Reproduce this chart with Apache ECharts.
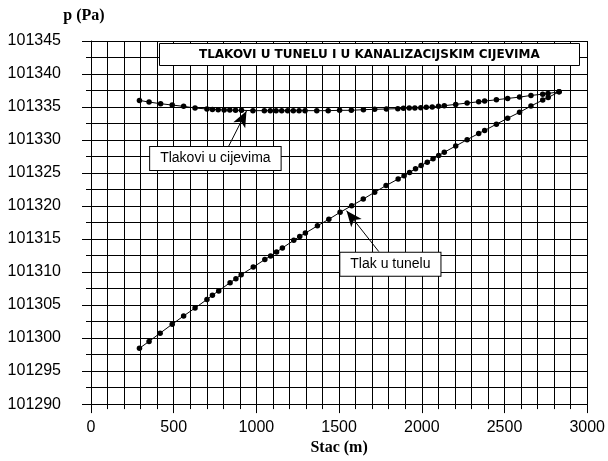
<!DOCTYPE html>
<html>
<head>
<meta charset="utf-8">
<title>Tlakovi u tunelu</title>
<script src="https://cdn.jsdelivr.net/npm/echarts@6/dist/echarts.min.js"></script>
<style>
  html, body { margin: 0; padding: 0; background: #fff; }
  #chart { width: 608px; height: 461px; }
</style>
</head>
<body>
<div id="chart"></div>
<script>
// stacionaža (m) i tlak (Pa) - cijevi
const stacCijevi = [293, 351, 421, 491, 560, 629, 701, 734, 769, 805, 839, 874, 910, 979, 1048, 1084, 1119, 1153, 1189, 1223, 1258, 1294, 1365, 1434, 1503, 1574, 1647, 1715, 1786, 1855, 1889, 1924, 1958, 1994, 2027, 2063, 2101, 2136, 2205, 2274, 2344, 2380, 2451, 2519, 2591, 2660, 2731, 2763, 2830]
const tlakCijevi = [101336.0, 101335.75, 101335.5, 101335.3, 101335.1, 101334.85, 101334.7, 101334.64, 101334.6, 101334.55, 101334.55, 101334.5, 101334.5, 101334.45, 101334.45, 101334.45, 101334.45, 101334.45, 101334.45, 101334.45, 101334.45, 101334.45, 101334.45, 101334.45, 101334.5, 101334.5, 101334.6, 101334.65, 101334.7, 101334.75, 101334.8, 101334.85, 101334.85, 101334.9, 101334.95, 101335.0, 101335.1, 101335.2, 101335.4, 101335.6, 101335.8, 101335.9, 101336.1, 101336.3, 101336.5, 101336.75, 101336.95, 101337.05, 101337.3]

// tunel
const stacTunel = [293, 351, 418, 491, 560, 629, 701, 734, 772, 841, 876, 908, 981, 1051, 1086, 1122, 1157, 1226, 1262, 1296, 1369, 1438, 1506, 1576, 1646, 1715, 1784, 1857, 1893, 1926, 1962, 1996, 2033, 2068, 2102, 2136, 2205, 2274, 2344, 2380, 2451, 2519, 2591, 2660, 2731, 2764, 2830]
const tlakTunel = [101298.45, 101299.5, 101300.75, 101302.1, 101303.35, 101304.55, 101305.85, 101306.5, 101307.15, 101308.4, 101309.0, 101309.6, 101310.75, 101311.9, 101312.45, 101313.05, 101313.65, 101314.8, 101315.4, 101315.9, 101317.0, 101318.0, 101319.05, 101320.05, 101321.05, 101322.1, 101323.1, 101324.1, 101324.6, 101325.1, 101325.65, 101326.15, 101326.65, 101327.15, 101327.65, 101328.15, 101329.1, 101330.05, 101331.0, 101331.45, 101332.4, 101333.3, 101334.2, 101335.15, 101336.05, 101336.45, 101337.3]

const naslov = 'TLAKOVI U TUNELU I U KANALIZACIJSKIM CIJEVIMA'
const oznakaCijevi = 'Tlakovi u cijevima'
const oznakaTunel = 'Tlak u tunelu'

const labelFont = "'Liberation Sans', Arial, sans-serif"
const nameFont = "'Liberation Serif', 'Times New Roman', serif"

const chart = echarts.init(document.getElementById('chart'), null, { renderer: 'canvas' })

// pomoćna: zip dva niza u parove [x, y]
function zip(xs, ys) {
  return xs.map((x, i) => [x, ys[i]])
}

// kutija s tekstom (markPoint bez simbola)
function kutija(text, coord) {
  return {
    symbol: 'rect',
    symbolSize: 0,
    silent: true,
    data: [{ coord: coord, value: text }],
    label: {
      show: true,
      position: 'inside',
      formatter: text,
      color: '#000',
      fontFamily: labelFont,
      fontSize: 14,
      backgroundColor: '#fff',
      borderColor: '#000',
      borderWidth: 1,
      padding: [5, 10, 4, 10]
    }
  }
}

// strelica od kutije do krivulje
function strelica(from, to) {
  return {
    silent: true,
    symbol: ['none', 'arrow'],
    symbolSize: [10, 16],
    label: { show: false },
    lineStyle: { color: '#000', width: 1, type: 'solid' },
    data: [[{ coord: from }, { coord: to }]]
  }
}

const option = {
  animation: false,
  backgroundColor: '#fff',
  title: {
    text: naslov,
    left: 159,
    top: 43,
    padding: [5, 40, 5, 40],
    backgroundColor: '#fff',
    borderColor: '#000',
    borderWidth: 1,
    textStyle: {
      fontFamily: "'DejaVu Sans', sans-serif",
      fontWeight: 'bold',
      fontSize: 12,
      lineHeight: 13,
      color: '#000'
    }
  },
  grid: {
    left: 91,
    right: 11,
    top: 41,
    bottom: 54
  },
  xAxis: {
    type: 'value',
    min: 0,
    max: 3000,
    interval: 500,
    name: 'Stac (m)',
    nameLocation: 'middle',
    nameGap: 32,
    nameTextStyle: { fontFamily: nameFont, fontWeight: 'bold', fontSize: 16, color: '#000' },
    axisLine: { onZero: false, lineStyle: { color: '#000', width: 1 } },
    axisTick: { show: true, length: 9, lineStyle: { color: '#000' } },
    minorTick: { show: true, splitNumber: 5, length: 5, lineStyle: { color: '#000' } },
    axisLabel: { color: '#000', fontFamily: labelFont, fontSize: 16, margin: 15, formatter: v => String(v) },
    splitLine: { show: true, lineStyle: { color: '#000', width: 1 } },
    minorSplitLine: { show: true, lineStyle: { color: '#000', width: 1 } }
  },
  yAxis: {
    type: 'value',
    min: 101290,
    max: 101345,
    interval: 5,
    name: 'p (Pa)',
    nameLocation: 'end',
    nameGap: 17,
    nameTextStyle: { fontFamily: nameFont, fontWeight: 'bold', fontSize: 16, color: '#000', padding: [0, 14, 0, 0] },
    axisLine: { show: true, onZero: false, lineStyle: { color: '#000', width: 1 } },
    axisTick: { show: true, length: 9, lineStyle: { color: '#000' } },
    minorTick: { show: true, splitNumber: 2, length: 5, lineStyle: { color: '#000' } },
    axisLabel: { color: '#000', fontFamily: labelFont, fontSize: 16, margin: 30, formatter: v => String(v) },
    splitLine: { show: true, lineStyle: { color: '#000', width: 1 } },
    minorSplitLine: { show: true, lineStyle: { color: '#000', width: 1 } }
  },
  series: [
    {
      name: oznakaCijevi,
      type: 'line',
      data: zip(stacCijevi, tlakCijevi),
      symbol: 'circle',
      symbolSize: 5.5,
      itemStyle: { color: '#000' },
      lineStyle: { color: '#000', width: 1 },
      markLine: strelica([831, 101329.0], [940, 101334.4]),
      markPoint: kutija(oznakaCijevi, [752, 101327.2])
    },
    {
      name: oznakaTunel,
      type: 'line',
      data: zip(stacTunel, tlakTunel),
      symbol: 'circle',
      symbolSize: 5.5,
      itemStyle: { color: '#000' },
      lineStyle: { color: '#000', width: 1 },
      markLine: strelica([1740, 101313.1], [1545, 101319.3]),
      markPoint: kutija(oznakaTunel, [1810, 101311.2])
    }
  ]
}

chart.setOption(option)
</script>
</body>
</html>
